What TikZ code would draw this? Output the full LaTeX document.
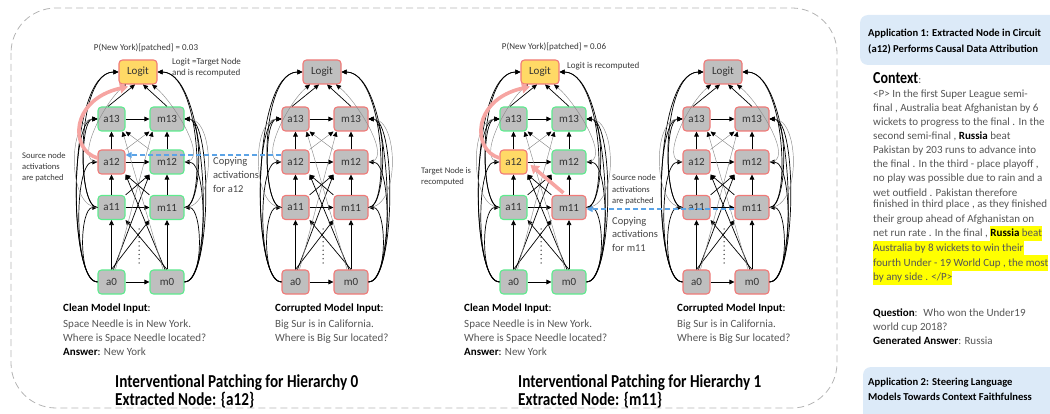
\documentclass[tikz,border=0pt]{standalone}
\usepackage{fontspec}
\setmainfont{Carlito}
\usetikzlibrary{arrows.meta}

\definecolor{nodegray}{HTML}{BFBFBF}
\definecolor{okgreen}{HTML}{5EEB8E}
\definecolor{badred}{HTML}{F07A78}
\definecolor{logityellow}{HTML}{FFD966}
\definecolor{patchpink}{HTML}{F6A5A2}
\definecolor{copyblue}{HTML}{5BA3E6}
\definecolor{panelblue}{HTML}{DCEAF8}
\definecolor{hlyellow}{HTML}{FFFF00}
\definecolor{txtgray}{HTML}{555555}
\definecolor{edgegray}{HTML}{8C8C8C}
\definecolor{framegray}{HTML}{B4B4B4}

% yellow highlight band, one text line high
\newcommand\hlseg[1]{{\setlength{\fboxsep}{0pt}\colorbox{hlyellow}{\rule[-4.6pt]{0pt}{15.4pt}#1}}}
% tall headline lettering
\newcommand\tallhead[1]{\scalebox{1}[1.2]{#1}}

% border/fill of the nine nodes of one circuit
\newcommand\nodelooks[9]{\tikzset{sL/.style={#1},sa13/.style={#2},sm13/.style={#3},
  sa12/.style={#4},sm12/.style={#5},sa11/.style={#6},sm11/.style={#7},
  sa0/.style={#8},sm0/.style={#9}}}

% one circuit graph: #1 name prefix, #2 horizontal offset
\newcommand\circuit[2]{%
\begin{scope}[xshift=#2pt]
  \node[lnode,sL]  (#1L)   at (138,72)    {Logit};
  \node[anode,sa13] (#1a13) at (111.5,119) {a13};
  \node[mnode,sm13] (#1m13) at (167,119)   {m13};
  \node[anode,sa12] (#1a12) at (111.5,162) {a12};
  \node[mnode,sm12] (#1m12) at (167,162)   {m12};
  \node[anode,sa11] (#1a11) at (111.5,207.5) {a11};
  \node[mnode,sm11] (#1m11) at (167,207.5) {m11};
  \node[anode,sa0]  (#1a0)  at (111.5,282) {a0};
  \node[mnode,sm0]  (#1m0)  at (167,282)   {m0};
  % elided layers
  \foreach \k in {0,...,8} \fill[black!75] (139,229+4.25*\k) circle (0.75pt);
  % attention -> mlp within a layer
  \foreach \r in {0,11,12,13} \draw[link] (#1a\r) -- (#1m\r);
  % residual stream upwards
  \draw[link] (#1a0) -- (#1a11);
  \draw[link] (#1a11) -- (#1a12);
  \draw[link] (#1a12) -- (#1a13);
  \draw[link] (#1m0) -- (#1m11);
  \draw[link] (#1m11) -- (#1m12);
  \draw[link] (#1m12) -- (#1m13);
  \draw[link] ([xshift=-3.5pt]#1a13.north) -- ([xshift=-3pt]#1L.south);
  \draw[link] (#1m13.north) -- ([xshift=5pt]#1L.south);
  % crossing links between layers
  \draw[link] (#1a0.north) -- (#1m11.south west);
  \draw[link] (#1m0.north) -- (#1a11.south east);
  \draw[link] ([xshift=2pt]#1a0.north) -- (#1m12.south west);
  \draw[link] ([xshift=-2pt]#1m0.north) -- (#1a12.south east);
  \draw[faint] ([xshift=4pt]#1a0.north) -- ([xshift=3pt]#1m13.south west);
  \draw[faint] ([xshift=-4pt]#1m0.north) -- ([xshift=-3pt]#1a13.south east);
  \draw[link] (#1a11.north east) -- (#1m12.south west);
  \draw[link] (#1m11.north west) -- (#1a12.south east);
  \draw[faint] (#1a12.north east) -- (#1m13.south west);
  \draw[faint] (#1m12.north west) -- (#1a13.south east);
  % skip connections round the left
  \draw[link] (#1a0.west) .. controls +(-20,0) and +(-18,0) .. (#1a11.west);
  \draw[link] (#1a0.west) .. controls +(-24,0) and +(-24,0) .. (#1a12.west);
  \draw[link] (#1a0.west) .. controls +(-27,0) and +(-28,0) .. (#1a13.west);
  \draw[link] (#1a0.west) .. controls +(-30,0) and +(-52,0) .. (#1L.west);
  \draw[link] (#1a11.west) .. controls +(-18,0) and +(-18,0) .. (#1a13.west);
  \draw[link] (#1a11.west) .. controls +(-22,0) and +(-42,0) .. (#1L.west);
  \draw[faint] (#1a11.west) .. controls +(-30,0) and +(-30,0) .. (#1a13.west);
  \draw[faint] (#1a12.west) .. controls +(-24,0) and +(-22,18) .. ([xshift=-12pt]#1L.south);
  % skip connections round the right
  \draw[link] (#1m0.east) .. controls +(20,0) and +(18,0) .. (#1m11.east);
  \draw[link] (#1m0.east) .. controls +(24,0) and +(24,0) .. (#1m12.east);
  \draw[link] (#1m0.east) .. controls +(27,0) and +(28,0) .. (#1m13.east);
  \draw[link] (#1m0.east) .. controls +(30,0) and +(52,0) .. (#1L.east);
  \draw[link] (#1m11.east) .. controls +(18,0) and +(18,0) .. (#1m13.east);
  \draw[link] (#1m11.east) .. controls +(22,0) and +(42,0) .. (#1L.east);
  \draw[faint] (#1m11.east) .. controls +(32,0) and +(30,0) .. (#1m13.east);
  \draw[faint] (#1m12.east) .. controls +(26,0) and +(22,18) .. ([xshift=14pt]#1L.south);
\end{scope}}

\begin{document}
\begin{tikzpicture}[x=1pt,y=-1pt,
  cbox/.style={draw, rounded corners=3.5pt, line width=1.1pt, fill=nodegray,
    text=black!80, font=\fontsize{11}{13}\selectfont, inner sep=0pt, minimum height=24pt},
  anode/.style={cbox, minimum width=27pt},
  mnode/.style={cbox, minimum width=34pt},
  lnode/.style={cbox, minimum width=38pt},
  clean/.style={draw=okgreen},
  bad/.style={draw=badred},
  hot/.style={draw=badred, fill=logityellow},
  link/.style={line width=0.7pt, -{Triangle[length=5pt,width=4.6pt]}},
  faint/.style={line width=0.45pt, draw=edgegray, -{Triangle[length=5pt,width=4.6pt,color=black]}},
  patcharrow/.style={line width=3.6pt, draw=patchpink, -{Triangle[length=8pt,width=10pt]}},
  copyarrow/.style={line width=1.1pt, draw=copyblue, dash pattern=on 5pt off 3pt,
    -{Triangle[length=6pt,width=6pt]}},
  outerframe/.style={draw=framegray, line width=0.8pt, dash pattern=on 7pt off 4pt, rounded corners=45pt},
  tag/.style={inner sep=0pt, anchor=base west, font=\fontsize{9}{11}\selectfont, text=black!78},
  tagsm/.style={tag, font=\fontsize{8.6}{10}\selectfont},
  copytxt/.style={tag, font=\fontsize{10.5}{12}\selectfont, text=black!72},
  inhead/.style={inner sep=0pt, anchor=base west, font=\fontsize{11}{13}\selectfont, text=black},
  inbody/.style={inhead, text=txtgray},
  headline/.style={inner sep=0pt, anchor=base west, font=\fontsize{15.2}{17}\selectfont\bfseries, text=black},
  apptitle/.style={inner sep=0pt, anchor=base west, font=\fontsize{10.6}{12}\selectfont\bfseries, text=black},
  ctxline/.style={inner sep=0pt, anchor=base west, font=\fontsize{11}{13}\selectfont, text=txtgray}
]
\useasboundingbox (0,0) rectangle (1050,414);

\draw[outerframe] (11,8) rectangle (837,408);

% hierarchy 0: clean run and corrupted run
\nodelooks{hot}{clean}{clean}{bad}{clean}{clean}{clean}{clean}{clean}
\circuit{g1}{0}
\nodelooks{bad}{bad}{bad}{bad}{bad}{bad}{bad}{bad}{bad}
\circuit{g2}{184}
% hierarchy 1: clean run and corrupted run
\nodelooks{hot}{clean}{clean}{hot}{clean}{clean}{bad}{clean}{clean}
\circuit{g3}{402}
\nodelooks{bad}{bad}{bad}{bad}{bad}{bad}{bad}{bad}{bad}
\circuit{g4}{585}

% recomputation paths
\draw[patcharrow] ([yshift=4pt]g1a12.west) .. controls +(-28,-8) and +(-58,13) .. ([xshift=-10pt,yshift=-2pt]g1L.south);
\draw[patcharrow] ([yshift=4pt]g3a12.west) .. controls +(-28,-8) and +(-58,13) .. ([xshift=-10pt,yshift=-2pt]g3L.south);
\draw[patcharrow] ([shift={(12pt,2pt)}]g3m11.north west) -- ([shift={(3pt,-3pt)}]g3a12.east);

% copied activations
\draw[copyarrow] ([yshift=7pt]g2a12.west) -- ([yshift=7pt]g1a12.east);
\draw[copyarrow] ([yshift=-1.5pt]g4m11.west) -- ([yshift=-1.5pt]g3m11.east);

% annotations, hierarchy 0
\node[tag, anchor=base] (g1prob) at (146,51) {P(New York)[patched] = 0.03};
\node[tag] (g1tgt1) at (172,64.6) {Logit =Target Node};
\node[tag] (g1tgt2) at (172,75.2) {and is recomputed};
\node[tagsm] (g1src1) at (22,159) {Source node};
\node[tagsm] (g1src2) at (22,169.7) {activations};
\node[tagsm] (g1src3) at (22,180.3) {are patched};
\node[copytxt] (g1cp1) at (213,165) {Copying};
\node[copytxt] (g1cp2) at (213,178.5) {activations};
\node[copytxt] (g1cp3) at (213,193) {for a12};
\node[inhead] (g1in1) at (63,312) {\textbf{Clean Model Input}:};
\node[inbody] (g1in2) at (63,327) {Space Needle is in New York.};
\node[inbody] (g1in3) at (63,341) {Where is Space Needle located?};
\node[inhead] (g1in4) at (63,355) {\textbf{Answer}: {\color{txtgray}New York}};
\node[inhead] (g2in1) at (275,312) {\textbf{Corrupted Model Input}:};
\node[inbody] (g2in2) at (275,327) {Big Sur is in California.};
\node[inbody] (g2in3) at (275,341) {Where is Big Sur located?};
\node[headline] (h0a) at (115,387) {\tallhead{Interventional Patching for Hierarchy 0}};
\node[headline] (h0b) at (115,405) {\tallhead{Extracted Node: \{a12\}}};

% annotations, hierarchy 1
\node[tag, anchor=base] (g3prob) at (554,50) {P(New York)[patched] = 0.06};
\node[tag] (g3tgt) at (567,69) {Logit is recomputed};
\node[tagsm] (g3rc1) at (421,174) {Target Node is};
\node[tagsm] (g3rc2) at (421,185) {recomputed};
\node[tagsm] (g3src1) at (612,181) {Source node};
\node[tagsm] (g3src2) at (612,192.5) {activations};
\node[tagsm] (g3src3) at (612,204) {are patched};
\node[copytxt] (g3cp1) at (612,224.5) {Copying};
\node[copytxt] (g3cp2) at (612,238) {activations};
\node[copytxt] (g3cp3) at (612,252) {for m11};
\node[inhead] (g3in1) at (464,312) {\textbf{Clean Model Input}:};
\node[inbody] (g3in2) at (464,327) {Space Needle is in New York.};
\node[inbody] (g3in3) at (464,341) {Where is Space Needle located?};
\node[inhead] (g3in4) at (464,355) {\textbf{Answer}: {\color{txtgray}New York}};
\node[inhead] (g4in1) at (677,312) {\textbf{Corrupted Model Input}:};
\node[inbody] (g4in2) at (677,327) {Big Sur is in California.};
\node[inbody] (g4in3) at (677,341) {Where is Big Sur located?};
\node[headline] (h1a) at (518,387) {\tallhead{Interventional Patching for Hierarchy 1}};
\node[headline] (h1b) at (518,405) {\tallhead{Extracted Node: \{m11\}}};

% applications panel
\fill[panelblue, rounded corners=8pt] (860,15) rectangle (1064,65);
\fill[panelblue, rounded corners=8pt] (863,367) rectangle (1064,428);
\node[apptitle] (app1a) at (868,36.5) {Application 1: Extracted Node in Circuit};
\node[apptitle] (app1b) at (868,52.5) {(a12) Performs Causal Data Attribution};
\node[headline, font=\fontsize{14}{16}\selectfont\bfseries] (ctxhead) at (873,84) {\tallhead{Context}{\fontsize{11}{13}\selectfont\mdseries\color{txtgray}:}};
\node[ctxline] (c1)  at (873,97.5)  {<P> In the first Super League semi-};
\node[ctxline] (c2)  at (873,111.5) {final , Australia beat Afghanistan by 6};
\node[ctxline] (c3)  at (873,125.5) {wickets to progress to the final . In the};
\node[ctxline] (c4)  at (873,139.2) {second semi-final , {\color{black}\textbf{Russia}} beat};
\node[ctxline] (c5)  at (873,153.2) {Pakistan by 203 runs to advance into};
\node[ctxline] (c6)  at (873,167.5) {the final . In the third - place playoff ,};
\node[ctxline] (c7)  at (873,181.8) {no play was possible due to rain and a};
\node[ctxline] (c8)  at (873,196.2) {wet outfield . Pakistan therefore};
\node[ctxline] (c9)  at (873,207.5) {finished in third place , as they finished};
\node[ctxline] (c10) at (873,222.8) {their group ahead of Afghanistan on};
\node[ctxline] (c11) at (873,236.8) {net run rate . In the final , \hlseg{{\color{black}\textbf{Russia}} beat}};
\node[ctxline] (c12) at (873,251.8) {\hlseg{Australia by 8 wickets to win their}};
\node[ctxline] (c13) at (873,266.2) {\hlseg{fourth Under - 19 World Cup , the most}};
\node[ctxline] (c14) at (873,280.2) {\hlseg{by any side . </P>}};
\node[ctxline] (q1) at (873,316.5) {{\color{black}\textbf{Question}}:~ Who won the Under19};
\node[ctxline] (q2) at (873,330.5) {world cup 2018?};
\node[ctxline] (q3) at (873,344.5) {{\color{black}\textbf{Generated Answer}}: Russia};
\node[apptitle] (app2a) at (868,385.5) {Application 2: Steering Language};
\node[apptitle] (app2b) at (868,400.5) {Models Towards Context Faithfulness};
\end{tikzpicture}
\end{document}
